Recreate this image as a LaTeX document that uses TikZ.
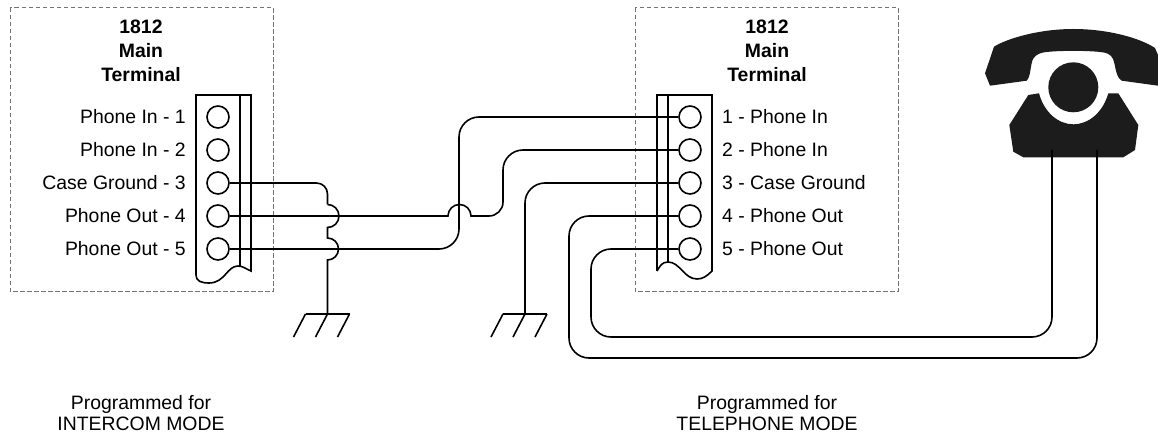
\documentclass[tikz,border=0pt]{standalone}
\usepackage{fontspec}
\setmainfont{Liberation Sans}
\tikzstyle{wire} = [draw, line width=1.6pt, rounded corners=20pt]
\tikzstyle{plain} = [draw, line width=1.6pt]
\tikzstyle{outline} = [draw=black!55, dash pattern=on 4.5pt off 2.5pt, line width=1pt]
\tikzstyle{lug} = [draw, circle, fill=white, line width=1.6pt, minimum size=22pt, inner sep=0pt]
\tikzstyle{pinlabel} = [font=\fontsize{19.4}{20}\selectfont, inner sep=0pt]
\tikzstyle{title} = [font=\fontsize{19.4}{24}\selectfont\bfseries, align=center, inner sep=0pt]
\tikzstyle{caption} = [font=\fontsize{19.4}{21.5}\selectfont, align=center, inner sep=0pt]
\definecolor{phone1}{RGB}{28,28,28}

\begin{document}
\begin{tikzpicture}[x=1pt, y=-1pt]
    \useasboundingbox (0,0) rectangle (1158,435);

    % dashed boxes
    \draw [outline] (10,8) rectangle (273,292);
    \draw [outline] (635,8) rectangle (898,292);

    % left terminal block
    \draw [plain] (251,271) .. controls (246,269) and (243,266) .. (238,266)
        .. controls (227,266) and (225,283) .. (209,283)
        .. controls (201,283) and (196,281) .. (196,275)
        -- (196,95) -- (251,95) -- cycle;
    \draw [plain] (240,95) -- (240,266);

    % right terminal block
    \draw [plain] (657,271) -- (657,95) -- (712,95) -- (712,271)
        .. controls (707,276) and (703,279) .. (697,279)
        .. controls (684,279) and (680,262) .. (668,262)
        .. controls (662,262) and (660,266) .. (657,271);
    \draw [plain] (668,95) -- (668,262);

    % lugs
    \foreach \n/\y in {1/117,2/150,3/183,4/216,5/249} {
        \node [lug] (left\n) at (218,\y) {};
        \node [lug] (right\n) at (690,\y) {};
    }

    % pin labels
    \node [pinlabel, anchor=east] (lab1) at (186,117) {Phone In - 1};
    \node [pinlabel, anchor=east] (lab2) at (186,150) {Phone In - 2};
    \node [pinlabel, anchor=east] (lab3) at (186,183) {Case Ground - 3};
    \node [pinlabel, anchor=east] (lab4) at (186,216) {Phone Out - 4};
    \node [pinlabel, anchor=east] (lab5) at (186,249) {Phone Out - 5};
    \node [pinlabel, anchor=west] (rab1) at (722,117) {1 - Phone In};
    \node [pinlabel, anchor=west] (rab2) at (722,150) {2 - Phone In};
    \node [pinlabel, anchor=west] (rab3) at (722,183) {3 - Case Ground};
    \node [pinlabel, anchor=west] (rab4) at (722,216) {4 - Phone Out};
    \node [pinlabel, anchor=west] (rab5) at (722,249) {5 - Phone Out};

    % titles
    \node [title] (titleleft) at (141,51) {1812\\Main\\Terminal};
    \node [title] (titleright) at (767,51) {1812\\Main\\Terminal};
    \node [caption] (capleft) at (141,413) {Programmed for\\INTERCOM MODE};
    \node [caption] (capright) at (767,413) {Programmed for\\TELEPHONE MODE};

    % phone
    \fill [phone1] (1073.3,87.3) circle (25pt);
    \fill [phone1] (1028.3,95) -- (1039,93.3)
        .. controls (1044,112) and (1058,124.3) .. (1073.3,124.3)
        .. controls (1089,124.3) and (1103,112) .. (1108.3,93.3)
        -- (1118.3,93.3) -- (1138.3,125) -- (1135,150) -- (1123.3,157.3)
        -- (1023.3,157.3) -- (1013.3,151.7) -- (1009.3,125) -- cycle;
    \fill [phone1] (990,85.7) -- (1026.7,80.7)
        .. controls (1031,76) and (1030,66) .. (1033,59)
        .. controls (1036,54) and (1041,52.5) .. (1046.7,52)
        .. controls (1060,50.5) and (1087,50.5) .. (1100,52)
        .. controls (1106,52.5) and (1111,54) .. (1113,59)
        .. controls (1116,66) and (1115,76) .. (1121.7,80.7)
        -- (1158,85.7) -- (1158,55) -- (1155,48)
        .. controls (1140,38) and (1108,29) .. (1073.3,29)
        .. controls (1040,29) and (1008,38) .. (994,46.7)
        -- (985,73.3) -- cycle;

    % grounds
    \coordinate (gndleft) at (327.5,314);
    \coordinate (gndright) at (525,314);
    \foreach \g in {gndleft,gndright} {
        \draw [plain] ([xshift=-22pt]\g) -- ([xshift=22pt]\g);
        \foreach \d in {-22,0,22}
            \draw [plain] ([xshift=\d pt]\g) -- ([xshift=\d pt-12pt,yshift=-23pt]\g);
    }

    % wires
    \draw [plain, rounded corners=11pt] (left3.east) -- (327.5,183) -- (327.5,204.5);
    \draw [plain] (327.5,204.5) arc [start angle=90, end angle=-90, radius=11.5pt]
        -- (327.5,238) arc [start angle=90, end angle=-90, radius=11pt]
        -- (gndleft);
    \draw [plain] (left4.east) -- (448,216)
        arc [start angle=180, end angle=0, radius=11.5pt] -- (480,216);
    \draw [plain] (480,216) [rounded corners=14pt] -- (503,216)
        [rounded corners=20pt] -- (503,150) -- (right2.west);
    \draw [wire] (left5.east) -- (459,249) -- (459,117) -- (right1.west);
    \draw [wire] (right3.west) -- (525,183) -- (gndright);
    \draw [wire] (right4.west) -- (569,216) -- (569,358) -- (1097,358) -- (1097,150);
    \draw [wire] (right5.west) -- (591,249) -- (591,337) -- (1052,337) -- (1052,150);
\end{tikzpicture}
\end{document}
